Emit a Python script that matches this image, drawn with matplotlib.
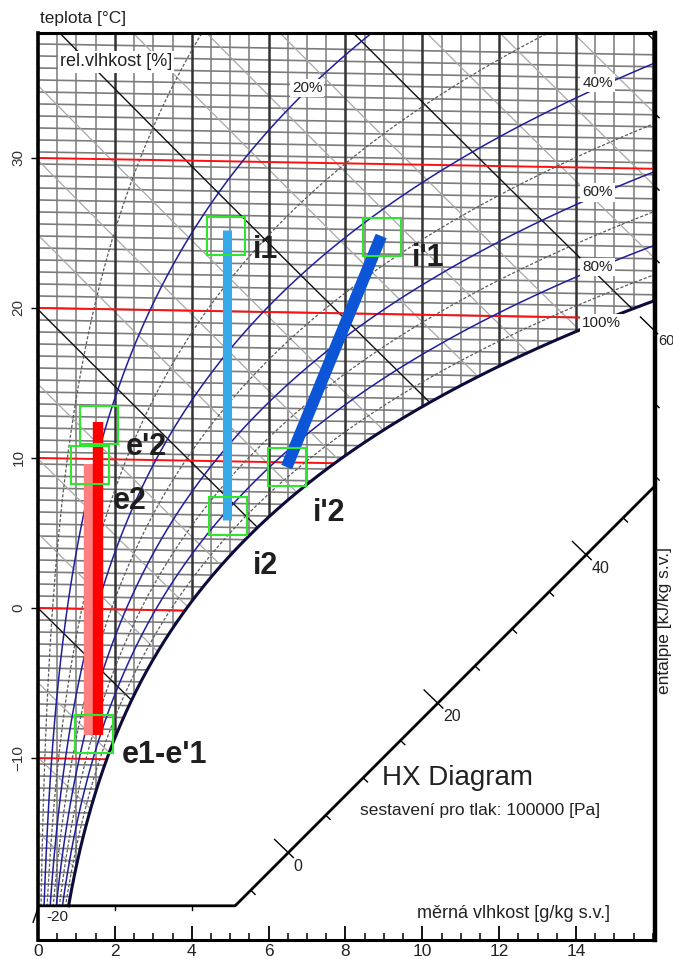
import numpy as np
import matplotlib
matplotlib.use("Agg")
import matplotlib.pyplot as plt
from matplotlib.collections import LineCollection
from matplotlib.patches import Polygon

plt.rcParams["font.family"] = ["Liberation Sans", "DejaVu Sans"]

W, H = 673, 959
PRESSURE = 100000.0               # Pa
X_MAX = 16.05                     # g/kg at the right spine
Y_MIN, Y_MAX = -22.13, 38.33      # temperature scale at x = 0
ISO_TILT = 0.045                  # isotherms drop slightly with moisture on this chart
SCALE_X0, SCALE_Y0 = 5.13, -19.85  # where the enthalpy scale leaves the -20 line

# grid levels
temperatures = np.arange(-19.2, 38.4, 0.8)
red_temperatures = [-10, 0, 10, 20, 30]
enthalpies = np.arange(-20, 86, 5)
moistures = np.arange(0.5, 16.01, 0.5)
rh_blue = [0.2, 0.4, 0.6, 0.8]
rh_grey = [0.1, 0.3, 0.5, 0.7, 0.9]

rh_label_text = ["20%", "40%", "60%", "80%", "100%"]
rh_label_x = [7.0, 14.16, 14.16, 14.16, 14.16]
rh_label_y = [34.67, 35.0, 27.7, 22.73, 19.0]

# process lines (x in g/kg, y in degC)
e_x = [1.33, 1.33]
e_y = [-8.45, 9.6]
e_prime_x = [1.57, 1.57]
e_prime_y = [-8.45, 12.4]
i_x = [4.92, 4.92]
i_y = [25.2, 5.9]
i_prime_x = [8.93, 6.47]
i_prime_y = [24.8, 9.4]

# green marker boxes
box_x = [1.59, 1.35, 1.46, 4.89, 4.94, 8.95, 6.48]
box_y = [12.23, 9.53, -8.4, 24.8, 6.13, 24.7, 9.37]

label_text = ["e'2", "e2", "e1-e'1", "i1", "i2", "i'1", "i'2"]
label_x = [2.81, 2.39, 3.30, 5.93, 5.93, 10.15, 7.57]
label_y = [10.73, 7.13, -9.8, 23.87, 2.8, 23.33, 6.33]


def p_sat(t):
    return 610.94 * np.exp(17.625 * t / (t + 243.04))


def moisture(t, phi):
    pv = phi * p_sat(t)
    return 622.0 * pv / (PRESSURE - pv)


def chart_y(t, x):
    return t - ISO_TILT * x


def temp_from_h(h, x):
    return (h - 2.501 * x) / (1.005 + 0.00186 * x)


def h_line(h, x):
    return chart_y(temp_from_h(h, x), x)


fig = plt.figure(figsize=(W / 100, H / 100), dpi=100)
ax = fig.add_axes([38 / W, 1 - 940 / H, (654.8 - 38) / W, (940 - 33) / H])
ax.set_xlim(0, X_MAX)
ax.set_ylim(Y_MIN, Y_MAX)

# unsaturated region used to clip the grid
ts = np.linspace(-20, 30, 800)
xs = moisture(ts, 1.0)
ys = chart_y(ts, xs)
keep = (xs <= X_MAX + 0.5) & (ys >= SCALE_Y0)
sat_x, sat_y = xs[keep], ys[keep]
pts = [(0, SCALE_Y0), (sat_x[0], SCALE_Y0)] + list(zip(sat_x, sat_y))
pts += [(X_MAX + 0.5, sat_y[-1]), (X_MAX + 0.5, Y_MAX + 2), (0, Y_MAX + 2)]
clip = Polygon(pts, closed=True, facecolor="none", edgecolor="none",
               transform=ax.transData)


def add_lines(segs, color, lw, z, **kw):
    lc = LineCollection(segs, colors=color, linewidths=lw, zorder=z, **kw)
    ax.add_collection(lc)
    lc.set_clip_path(clip)


# vertical moisture lines
light_v = [[(x, -25), (x, 45)] for x in moistures if x % 2 != 0]
dark_v = [[(x, -25), (x, 45)] for x in moistures if x % 2 == 0]
add_lines(light_v, "#8e8e8e", 1.3, 1.0)

# isotherms
xx = np.array([0, X_MAX + 0.5])
grey_t = [np.column_stack([xx, chart_y(t, xx)]) for t in temperatures]
add_lines(grey_t, "#7c7c7c", 1.2, 1.1)

# enthalpy lines
xh = np.linspace(0, X_MAX + 0.5, 60)
grey_h = [np.column_stack([xh, h_line(h, xh)]) for h in enthalpies if h % 20 != 0]
black_h = [np.column_stack([xh, h_line(h, xh)]) for h in enthalpies if h % 20 == 0]
add_lines(grey_h, "#a8a8a8", 0.9, 1.2)
add_lines(dark_v, "#333333", 1.8, 1.3)
add_lines(black_h, "#111111", 1.0, 1.4)

red_t = [np.column_stack([xx, chart_y(t, xx)]) for t in red_temperatures]
add_lines(red_t, "#ff1010", 1.4, 1.5)

# relative humidity curves
tr = np.linspace(-19.9, 45, 500)
for phi in rh_grey:
    xr = moisture(tr, phi)
    add_lines([np.column_stack([xr, chart_y(tr, xr)])], "#5a5a5a", 0.9, 1.6,
              linestyles=[(0, (2.5, 1.5))])
for phi in rh_blue:
    xr = moisture(tr, phi)
    add_lines([np.column_stack([xr, chart_y(tr, xr)])], "#1f1f9e", 1.1, 1.7)
ax.plot(sat_x, sat_y, color="#0c0c3c", lw=2.2, zorder=1.8)

for txt, x, y in zip(rh_label_text, rh_label_x, rh_label_y):
    ax.text(x, y, txt, fontsize=11, ha="center" if txt == "20%" else "left",
            va="center", color="#222222", zorder=2.5,
            bbox=dict(facecolor="white", edgecolor="none", pad=1.5))
ax.text(0.57, 36.4, "rel.vlhkost [%]", fontsize=13, ha="left", va="center",
        color="#222222", zorder=2.5,
        bbox=dict(facecolor="white", edgecolor="none", pad=1.5))

# enthalpy scale
slope = ((ax.transData.transform((1, 0)) - ax.transData.transform((0, 0)))[0]
         / (ax.transData.transform((0, 1)) - ax.transData.transform((0, 0)))[1])
scale_y_end = SCALE_Y0 + slope * (X_MAX - SCALE_X0)
ax.plot([0, SCALE_X0, X_MAX], [SCALE_Y0, SCALE_Y0, scale_y_end],
        color="black", lw=2.0, zorder=3, solid_capstyle="butt")
for xt in [2, 4]:
    ax.plot([xt, xt], [SCALE_Y0, SCALE_Y0 - 0.28], color="black", lw=1, zorder=3)

to_px = ax.transData.transform
to_data = ax.transData.inverted().transform


def h_tick(x, y, h, before, after, label=None, off=(5, -6), size=11.5):
    p0 = to_px((x, y))
    p1 = to_px((x + 0.01, h_line(h, x + 0.01)))
    d = (p1 - p0) / np.hypot(*(p1 - p0))
    seg = to_data([p0 - d * before, p0 + d * after])
    ax.plot(seg[:, 0], seg[:, 1], color="black", lw=1.0, zorder=3, clip_on=False)
    if label is not None:
        ax.annotate(label, (x, y), xytext=off, textcoords="offset pixels",
                    fontsize=size, ha="left", va="top", color="#222222",
                    annotation_clip=False)


xs_scale = np.linspace(SCALE_X0, X_MAX, 3000)
for h in enthalpies:
    f = h_line(h, xs_scale) - (SCALE_Y0 + slope * (xs_scale - SCALE_X0))
    major = h % 20 == 0
    if f[0] >= 0 >= f[-1]:
        xt = np.interp(0, f[::-1], xs_scale[::-1])
        yt = SCALE_Y0 + slope * (xt - SCALE_X0)
        if major:
            h_tick(xt, yt, h, 19, 7, str(h))
        else:
            h_tick(xt, yt, h, 0, 6)
    else:
        ys_edge = h_line(h, X_MAX)
        if scale_y_end < ys_edge < Y_MAX - 1:
            if major:
                h_tick(X_MAX, ys_edge, h, 20, 4, str(h), off=(3, -3), size=10.5)
            else:
                h_tick(X_MAX, ys_edge, h, 0, 6)
h_tick(0, -20, -20, 15, 0)

# process lines
ax.plot(e_x, e_y, color="#ff7f7f", lw=7.5, solid_capstyle="butt", zorder=4)
ax.plot(e_prime_x, e_prime_y, color="#ff0000", lw=7.5, solid_capstyle="butt", zorder=4.1)
ax.plot(i_x, i_y, color="#38aaea", lw=6.5, solid_capstyle="butt", zorder=4)
ax.plot(i_prime_x, i_prime_y, color="#0b55d6", lw=8.5, solid_capstyle="butt", zorder=4)
ax.plot(box_x, box_y, linestyle="none", marker="s", markersize=27,
        markerfacecolor="none", markeredgecolor="#2ee62e", markeredgewidth=1.5,
        zorder=5)
for txt, x, y in zip(label_text, label_x, label_y):
    ax.text(x, y, txt, fontsize=22, fontweight="bold", ha="center", va="center",
            color="#1e1e1e", zorder=6)

ax.text(0.23, -20.6, "-20", fontsize=11, ha="left", va="center", color="#222222")

# axes styling
ax.set_xticks(np.arange(0, 15, 2))
ax.set_xticks(np.arange(0, 16.01, 0.5), minor=True)
ax.set_yticks(red_temperatures)
ax.tick_params(axis="x", which="major", direction="in", length=10, width=1.3,
               pad=3, labelsize=12.5, labelcolor="#222222")
ax.tick_params(axis="x", which="minor", direction="in", length=5, width=1.1)
ax.tick_params(axis="y", direction="out", length=5, width=1.0, pad=4,
               labelsize=11, labelcolor="#333333")
plt.setp(ax.get_yticklabels(), rotation=90, va="center")
for side, lw in [("left", 2.6), ("right", 3.2), ("top", 2.2), ("bottom", 2.2)]:
    ax.spines[side].set_linewidth(lw)

fig.text(40 / W, 1 - 18 / H, "teplota [°C]", fontsize=12.5, ha="left",
         va="center", color="#222222")
fig.text(382 / W, 1 - 778 / H, "HX Diagram", fontsize=20, ha="left",
         va="center", color="#222222")
fig.text(360 / W, 1 - 810 / H, "sestavení pro tlak: 100000 [Pa]", fontsize=12.5,
         ha="left", va="center", color="#222222")
fig.text(417 / W, 1 - 913 / H, "měrná vlhkost [g/kg s.v.]", fontsize=13,
         ha="left", va="center", color="#222222")
fig.text(665 / W, 1 - 620 / H, "entalpie [kJ/kg s.v.]", fontsize=12.5,
         ha="center", va="center", rotation=90, color="#222222")

fig.savefig("out.png", dpi=100)
